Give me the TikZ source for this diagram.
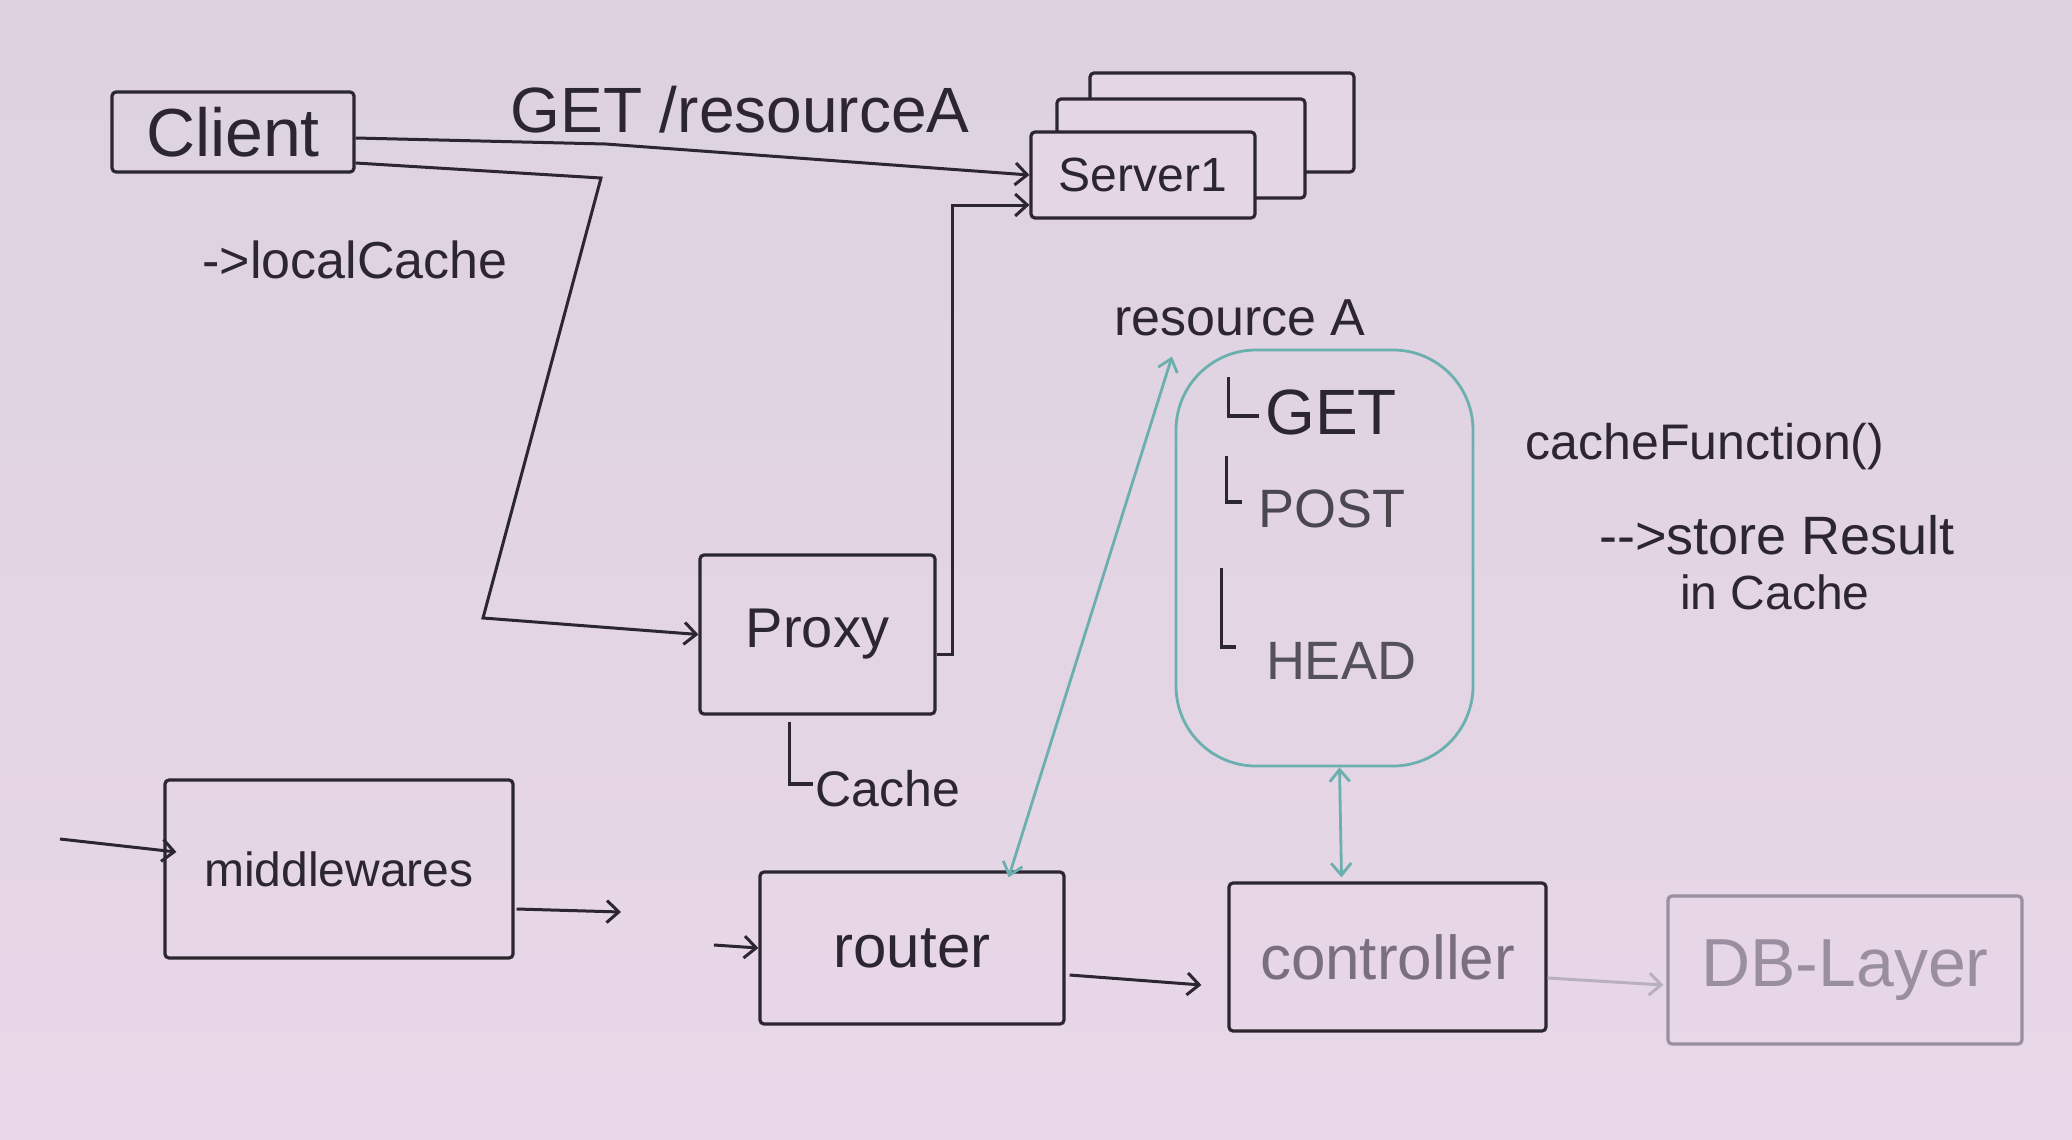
\documentclass[tikz,border=0pt]{standalone}
\usepackage{fontspec}
\setmainfont{Liberation Sans}
\usetikzlibrary{arrows.meta,calc}
\definecolor{boardtop}{HTML}{DDD2DF}
\definecolor{boardbot}{HTML}{E8D7E8}
\definecolor{board}{HTML}{E4D6E5}
\definecolor{ink}{HTML}{2B2630}
\definecolor{tealink}{HTML}{6BAFAE}
\definecolor{faintink}{HTML}{7A6F80}
\definecolor{paleink}{HTML}{9A8FA0}
\newcommand{\fs}[1]{\fontsize{#1}{#1}\selectfont}
\begin{document}
\begin{tikzpicture}[x=0.5pt,y=-0.5pt,
  box/.style={draw=ink,line width=1.6pt,rounded corners=2pt,inner sep=0pt,text=ink},
  lbl/.style={text=ink,inner sep=0pt},
  inkline/.style={draw=ink,line width=1.6pt},
  arr/.style={draw=ink,line width=1.5pt,-{Straight Barb[length=6pt,width=11pt,line width=1.5pt]}},
  tarr/.style={draw=tealink,line width=1.4pt,{Straight Barb[length=6pt,width=10pt,line width=1.4pt]}-{Straight Barb[length=6pt,width=10pt,line width=1.4pt]}},
]
\shade[top color=boardtop,bottom color=boardbot] (0,0) rectangle (2072,1140);
\useasboundingbox (0,0) rectangle (2072,1140);

% Client and server stack
\node[box,minimum width=121pt,minimum height=40pt,font=\fs{34}] (client) at (233,132) {Client};
\node[box,fill=board,minimum width=132pt,minimum height=49.5pt] (server3) at (1222,122.5) {};
\node[box,fill=board,minimum width=124pt,minimum height=49.5pt] (server2) at (1181,148.5) {};
\node[box,fill=board,minimum width=112pt,minimum height=43pt,font=\fs{24}] (server1) at (1143,175) {Server1};

\node[lbl,font=\fs{32}] (getlbl) at (740,110) {GET /resourceA};
\node[lbl,font=\fs{26}] (local) at (355,260) {->localCache};

% Proxy
\node[box,minimum width=117.5pt,minimum height=79.5pt,font=\fs{28}] (proxy) at (817.5,634.5) {Proxy};
\node[lbl,font=\fs{25}] (cache) at (888,789) {Cache};
\draw[inkline] ($(proxy.south)+(-28,6)$) |- ($(cache.west)+(-2,-5)$);

% resource A and methods
\node[lbl,font=\fs{26}] (resA) at (1240,318) {resource A};
\node[draw=tealink,line width=1.4pt,rounded corners=40pt,minimum width=148.5pt,minimum height=208pt,inner sep=0pt] (methods) at (1324.5,558) {};
\node[lbl,font=\fs{32}] (get) at (1331,412) {GET};
\node[lbl,font=\fs{27},text=ink!85] (post) at (1332,509) {POST};
\node[lbl,font=\fs{27},text=ink!80] (head) at (1341,661) {HEAD};
\draw[inkline] ($(get.west)+(-36,-35)$) |- ($(get.west)+(-6,4)$);
\draw[inkline] ($(post.west)+(-32,-53)$) |- ($(post.west)+(-16,-7)$);
\draw[inkline] ($(head.west)+(-44,-93)$) |- ($(head.west)+(-30,-14)$);

% notes
\node[lbl,font=\fs{25}] (cfun) at (1705,447) {cacheFunction()};
\node[lbl,font=\fs{27}] (store) at (1777,535) {-{}->store Result};
\node[lbl,font=\fs{24}] (incache) at (1775,592) {in Cache};

% bottom row
\node[box,minimum width=174pt,minimum height=89pt,font=\fs{24}] (mw) at (339,869) {middlewares};
\node[box,minimum width=152pt,minimum height=76pt,font=\fs{30}] (router) at (912,948) {router};
\node[box,minimum width=158.5pt,minimum height=74pt,font=\fs{31},text=faintink] (controller) at (1387.5,957) {controller};
\node[box,draw=paleink,minimum width=177pt,minimum height=74pt,font=\fs{34},text=paleink] (db) at (1845,970) {DB-Layer};

% connectors
\draw[arr] ($(client.east)+(0,6)$) -- ++(250,6) -- (server1.west);
\draw[arr] ($(client.east)+(0,31)$) -- (601,178) -- (483,618) -- (proxy.west);
\draw[arr] ($(proxy.east)+(0,20)$) -- ++(16,0) |- ($(server1.west)+(0,30)$);

\draw[tarr] ($(resA.south)+(-68,20)$) -- ($(router.north east)+(-57,7)$);
\draw[tarr] ($(methods.south)+(15,0)$) -- ($(controller.north)+(-46,-4)$);

\coordinate (mwin) at (60,839);
\coordinate (mwout) at (621,912);
\coordinate (rin) at (714,945);
\draw[arr] (mwin) -- ($(mw.west)+(13,-17)$);
\draw[arr] ($(mw.east)+(2,40)$) -- (mwout);
\draw[arr] (rin) -- (router.west);
\draw[arr] ($(router.east)+(4,27)$) -- ($(controller.west)+(-26,28)$);
\draw[arr,draw=paleink!70] ($(controller.east)+(0,21)$) -- ($(db.west)+(-3,15)$);
\end{tikzpicture}
\end{document}
